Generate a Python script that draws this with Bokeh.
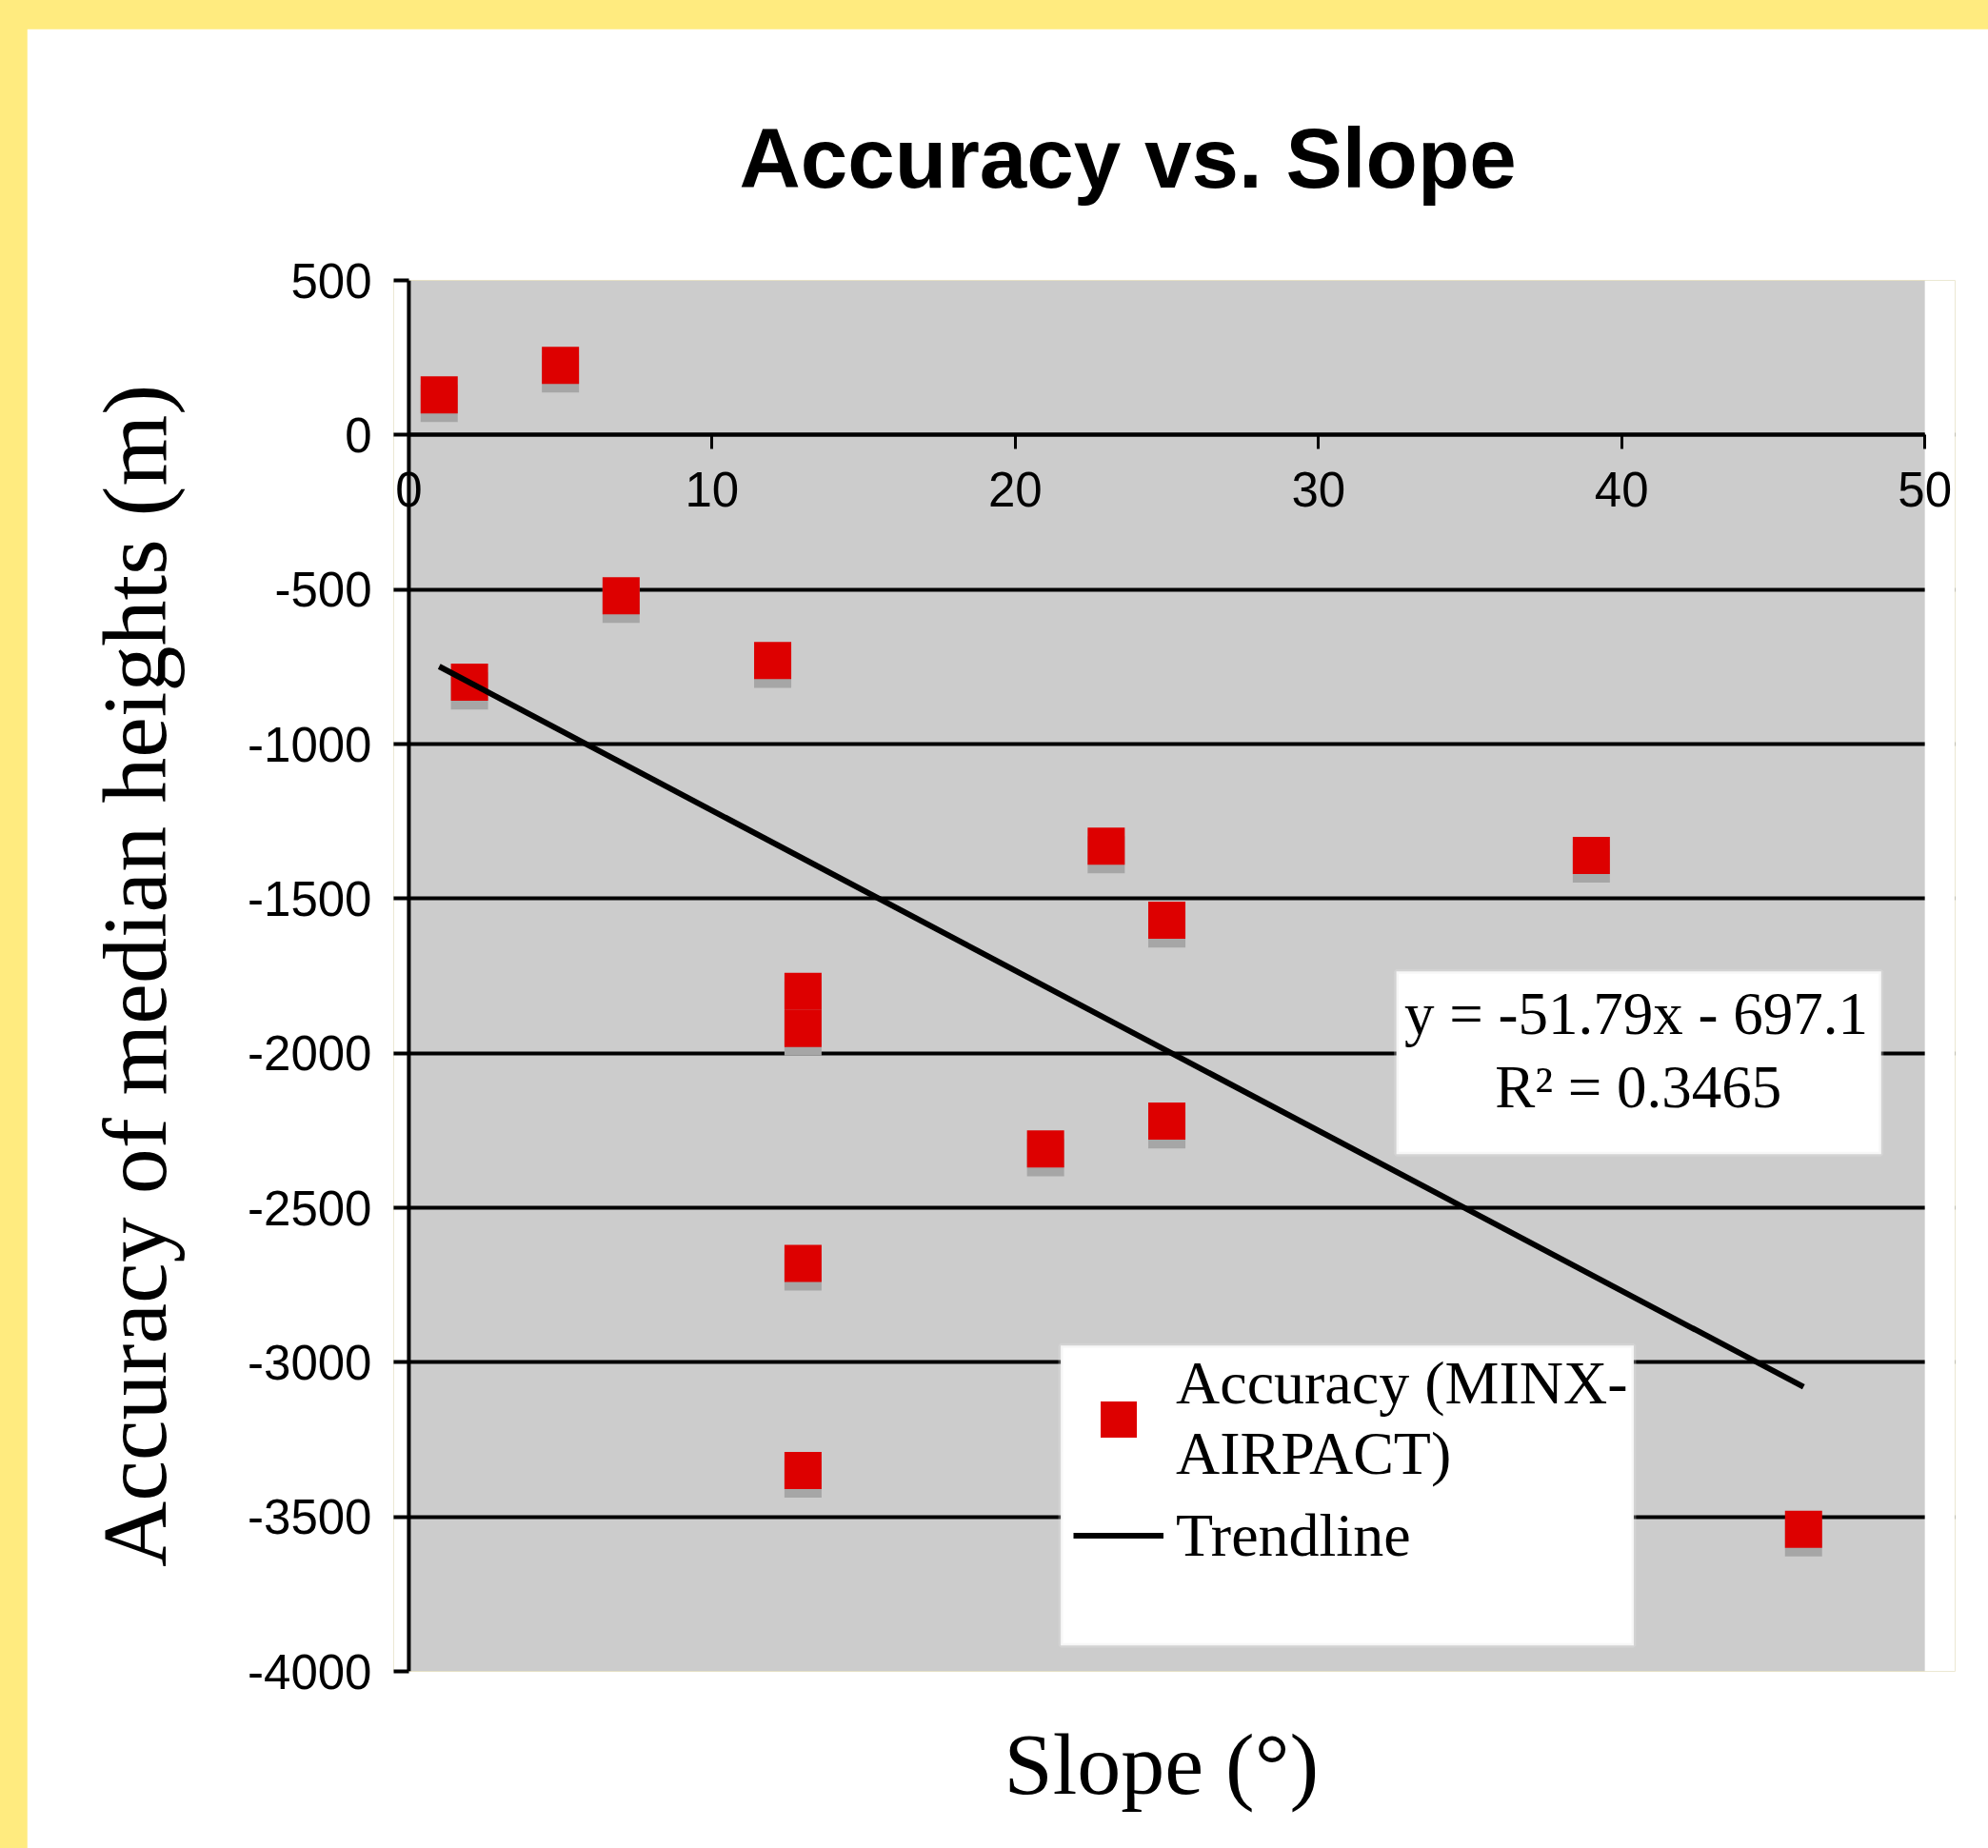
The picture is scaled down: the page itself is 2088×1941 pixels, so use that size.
from bokeh.plotting import figure
from bokeh.models import (Range1d, FixedTicker, Legend, LegendItem, Label, Title,
                          BoxAnnotation, ColumnDataSource, Span, NumeralTickFormatter)
from bokeh.transform import dodge
from bokeh.embed import file_html
from bokeh.resources import INLINE

# ---- data ----
slope_deg = [1, 5, 2, 7, 12, 13, 13, 13, 13, 21, 23, 25, 25, 39, 46]
accuracy_m = [130, 225, -800, -520, -730, -1800, -1920, -2680, -3350,
              -2310, -1330, -1570, -2220, -1360, -3540]

trend_slope = -51.79
trend_intercept = -697.1
r_squared = 0.3465

x_ticks = [0, 10, 20, 30, 40, 50]
y_ticks = [-4000, -3500, -3000, -2500, -2000, -1500, -1000, -500, 0, 500]

title_text = "Accuracy vs. Slope"
x_label = "Slope (°)"
y_label = "Accuracy of median heights (m)"
series_label = "Accuracy (MINX-\nAIRPACT)"
trend_label = "Trendline"

# ---- derived ----
src = ColumnDataSource(dict(slope=slope_deg, acc=accuracy_m))
trend_x = [min(slope_deg), max(slope_deg)]
trend_y = [trend_slope * v + trend_intercept for v in trend_x]

SANS = "Liberation Sans"
SERIF = "Liberation Serif"

p = figure(width=2060, height=1931,
           x_range=Range1d(-0.5, 51.0), y_range=Range1d(-4000, 500),
           output_backend="svg", toolbar_location=None,
           min_border_left=385, min_border_right=35,
           min_border_top=264, min_border_bottom=206,
           background_fill_color="#cccccc", border_fill_color="white",
           outline_line_color=None, title=title_text)

p.title.text_font = SANS
p.title.text_font_style = "bold"
p.title.text_font_size = "89px"
p.title.text_color = "black"
p.title.align = "left"
p.title.offset = 363
p.title.standoff = 157

# white margins of the frame outside the 0..50 plotting area
p.add_layout(BoxAnnotation(right=0, fill_color="white", fill_alpha=1.0,
                           line_color=None, level="underlay"))
p.add_layout(BoxAnnotation(left=50, fill_color="white", fill_alpha=1.0,
                           line_color=None, level="underlay"))

# x axis crossing at y = 0
xa = p.xaxis[0]
xa.fixed_location = 0
xa.bounds = (0, 50)
xa.ticker = FixedTicker(ticks=x_ticks)
xa.axis_line_color = "black"
xa.axis_line_width = 4
xa.major_tick_line_color = "black"
xa.major_tick_line_width = 3
xa.major_tick_out = 15
xa.major_tick_in = 0
xa.minor_tick_line_color = None
xa.major_label_text_font = SANS
xa.major_label_text_font_size = "51px"
xa.major_label_text_color = "black"
xa.major_label_standoff = 24

ya = p.yaxis[0]
ya.ticker = FixedTicker(ticks=y_ticks)
ya.formatter = NumeralTickFormatter(format="0")
ya.axis_line_color = None
ya.major_tick_line_color = "black"
ya.major_tick_line_width = 4
ya.major_tick_out = 0
ya.major_tick_in = 16
ya.minor_tick_line_color = None
ya.major_label_text_font = SANS
ya.major_label_text_font_size = "51px"
ya.major_label_text_color = "black"
ya.major_label_standoff = 23
ya.axis_label = y_label
ya.axis_label_text_font = SERIF
ya.axis_label_text_font_style = "normal"
ya.axis_label_text_font_size = "96px"
ya.axis_label_text_color = "black"
ya.axis_label_standoff = 62

p.xgrid.visible = False
p.ygrid.ticker = FixedTicker(ticks=y_ticks)
p.ygrid.grid_line_color = "black"
p.ygrid.grid_line_width = 4

# vertical axis line at x = 0
p.add_layout(Span(location=0, dimension="height", line_color="black", line_width=4))

# points with a grey drop shadow
p.scatter(x="slope", y=dodge("acc", -28, range=p.y_range), source=src,
          marker="square", size=39, fill_color="#a6a6a6", line_color=None)
pts = p.scatter(x="slope", y="acc", source=src, marker="square", size=39,
                fill_color="#dd0000", line_color=None)
trend = p.line(trend_x, trend_y, line_color="black", line_width=6)

# equation box
p.add_layout(BoxAnnotation(left=32.57, right=48.56, top=-1735, bottom=-2327,
                           fill_color="white", fill_alpha=1.0,
                           line_color="#e3e3e3", line_width=5))
p.add_layout(Label(x=40.48, y=-1872,
                   text=f"y = {trend_slope}x - {abs(trend_intercept)}",
                   text_align="center", text_baseline="alphabetic",
                   text_font=SERIF, text_font_size="63px", text_color="black"))
p.add_layout(Label(x=40.55, y=-2109, text=f"R² = {r_squared}",
                   text_align="center", text_baseline="alphabetic",
                   text_font=SERIF, text_font_size="63px", text_color="black"))

# legend box + legend
p.add_layout(BoxAnnotation(left=21.5, right=40.4, top=-2946, bottom=-3916,
                           fill_color="white", fill_alpha=1.0,
                           line_color="#e3e3e3", line_width=5))
legend = Legend(items=[LegendItem(label=series_label, renderers=[pts]),
                       LegendItem(label=trend_label, renderers=[trend])],
                location=(714, 94), padding=13, spacing=0,
                glyph_width=95, glyph_height=97, label_standoff=13,
                label_text_font=SERIF, label_text_font_size="64px",
                label_text_color="black",
                background_fill_alpha=0, border_line_color=None)
p.add_layout(legend, "center")

# x axis title below the frame
p.add_layout(Title(text=x_label, align="left", offset=641, standoff=88,
                   text_font=SERIF, text_font_size="92px",
                   text_font_style="normal", text_color="black"), "below")

html = file_html(p, INLINE, title=title_text)
html = html.replace(
    "</head>",
    "<style>html,body{margin:0;padding:0;background:#FFEB7F;overflow:hidden;}"
    "body{padding:30px 0 0 28px;}</style></head>", 1)
open("out.html", "w").write(html)
